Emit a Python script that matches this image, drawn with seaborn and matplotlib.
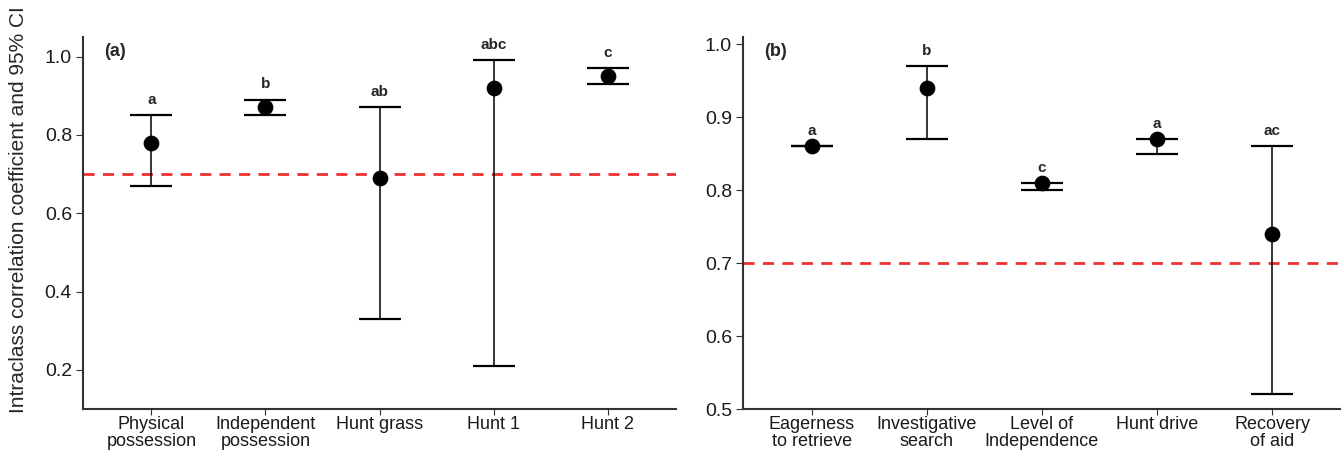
import numpy as np
import pandas as pd
import seaborn as sns
import matplotlib.pyplot as plt

# panel (a)
cats_a = ["Physical\npossession", "Independent\npossession", "Hunt grass", "Hunt 1", "Hunt 2"]
icc_a = [0.78, 0.87, 0.69, 0.92, 0.95]
low_a = [0.67, 0.85, 0.33, 0.21, 0.93]
high_a = [0.85, 0.89, 0.87, 0.99, 0.97]
letters_a = ["a", "b", "ab", "abc", "c"]

# panel (b)
cats_b = ["Eagerness\nto retrieve", "Investigative\nsearch", "Level of\nIndependence", "Hunt drive", "Recovery\nof aid"]
icc_b = [0.86, 0.94, 0.81, 0.87, 0.74]
low_b = [0.86, 0.87, 0.80, 0.85, 0.52]
high_b = [0.86, 0.97, 0.81, 0.87, 0.86]
letters_b = ["a", "b", "c", "a", "ac"]

threshold = 0.7

sns.set_style("ticks")
plt.rcParams['font.family'] = ['Liberation Sans', 'DejaVu Sans']

fig = plt.figure(figsize=(13.41, 4.54), dpi=100)
ax1 = fig.add_axes([83 / 1341, 45 / 454, (676 - 83) / 1341, 372 / 454])
ax2 = fig.add_axes([743 / 1341, 45 / 454, (1341 - 743) / 1341, 372 / 454])


def draw_panel(ax, cats, icc, low, high, letters, ylim, yticks, tag):
    df = pd.DataFrame({"trait": cats, "icc": icc, "low": low, "high": high})
    pos = np.arange(len(cats))
    ax.axhline(threshold, color="#f03030", ls=(0, (4, 3)), lw=2, zorder=1)
    ax.errorbar(pos, df["icc"], yerr=[df["icc"] - df["low"], df["high"] - df["icc"]],
                fmt="none", ecolor="black", elinewidth=1.1, capsize=15, capthick=1.6, zorder=2)
    sns.scatterplot(data=df, x="trait", y="icc", ax=ax, color="black", s=110,
                    edgecolor="black", zorder=3, legend=False)
    for p, h, lab in zip(pos, high, letters):
        ax.annotate(lab, (p, h), xytext=(0, 6), textcoords="offset points",
                    ha="center", va="bottom", fontsize=11, fontweight="bold")
    ax.set_xlim(-0.6, len(cats) - 0.4)
    ax.set_ylim(*ylim)
    ax.set_yticks(yticks)
    ax.set_yticklabels([f"{t:.1f}" for t in yticks])
    ax.set_xticks(pos)
    ax.set_xticklabels(cats, linespacing=1.0)
    ax.set_xlabel("")
    ax.set_ylabel("")
    ax.tick_params(axis="y", labelsize=14, length=5, pad=3, color="#333333", labelcolor="#1a1a1a")
    ax.tick_params(axis="x", labelsize=13, length=4, pad=1, color="#333333", labelcolor="#1a1a1a")
    for s in ["top", "right"]:
        ax.spines[s].set_visible(False)
    for s in ["left", "bottom"]:
        ax.spines[s].set_color("#333333")
        ax.spines[s].set_linewidth(1.5)
    ax.text(0.035, 0.985, tag, transform=ax.transAxes, fontsize=13, fontweight="bold",
            ha="left", va="top")


draw_panel(ax1, cats_a, icc_a, low_a, high_a, letters_a, (0.1, 1.05), [0.2, 0.4, 0.6, 0.8, 1.0], "(a)")
draw_panel(ax2, cats_b, icc_b, low_b, high_b, letters_b, (0.5, 1.01), [0.5, 0.6, 0.7, 0.8, 0.9, 1.0], "(b)")

ax1.set_ylabel("Intraclass correlation coefficient and 95% CI", fontsize=15)
ax1.yaxis.set_label_coords(-0.093, 0.535)

fig.savefig("out.png", dpi=100)
